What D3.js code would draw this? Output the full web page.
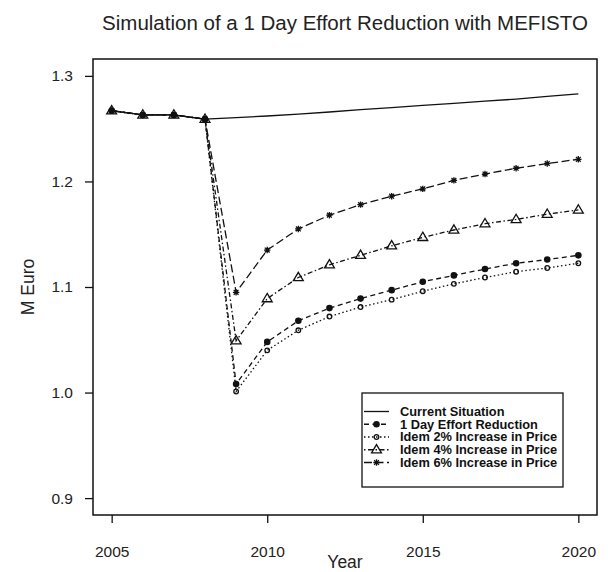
<!DOCTYPE html>
<html><head><meta charset="utf-8">
<script src="https://cdn.jsdelivr.net/npm/d3@7"></script>
<style>
body{margin:0;background:#fff;}
svg{display:block;font-family:"Liberation Sans",Arial,sans-serif;}
</style></head><body>
<svg id="c" width="608" height="572"></svg>
<script>
const years = [2005,2006,2007,2008,2009,2010,2011,2012,2013,2014,2015,2016,2017,2018,2019,2020];
const currentSituation = [1.267,1.263,1.263,1.259,1.2605,1.262,1.2638,1.2658,1.268,1.270,1.272,1.274,1.276,1.278,1.2805,1.283];
const effortReduction = [1.267,1.263,1.263,1.259,1.008,1.048,1.068,1.080,1.089,1.097,1.105,1.111,1.117,1.1225,1.126,1.130];
const price2 = [1.267,1.263,1.263,1.259,1.001,1.040,1.059,1.072,1.081,1.088,1.096,1.103,1.109,1.1145,1.118,1.1225];
const price4 = [1.267,1.263,1.263,1.259,1.049,1.089,1.109,1.121,1.130,1.139,1.147,1.154,1.160,1.164,1.169,1.173];
const price6 = [1.267,1.263,1.263,1.259,1.095,1.135,1.155,1.168,1.178,1.186,1.193,1.201,1.207,1.2125,1.217,1.221];
const seriesNames = ["Current Situation","1 Day Effort Reduction","Idem 2% Increase in Price","Idem 4% Increase in Price","Idem 6% Increase in Price"];
const xTicks = [2005,2010,2015,2020];
const yTicks = [0.9,1.0,1.1,1.2,1.3];
const title = "Simulation of a 1 Day Effort Reduction with MEFISTO";
const xTitle = "Year", yTitle = "M Euro";

const svg = d3.select("#c");
const L=93, R=597, T=59, B=515;
const x = d3.scaleLinear().domain([2004.4,2020.6]).range([L,R]);
const y = d3.scaleLinear().domain([0.884,1.316]).range([B,T]);
const ink = "#111";

const series = [
  {name:seriesNames[0], vals:currentSituation, dash:null, mark:null},
  {name:seriesNames[1], vals:effortReduction, dash:"5,3.5", mark:"filled"},
  {name:seriesNames[2], vals:price2, dash:"1.5,2.5", mark:"open"},
  {name:seriesNames[3], vals:price4, dash:"1.5,2.5,5,2.5", mark:"tri"},
  {name:seriesNames[4], vals:price6, dash:"8,3.5", mark:"star"}
];

function drawMark(g, type, cx, cy){
  if(type==="filled"){
    g.append("circle").attr("cx",cx).attr("cy",cy).attr("r",3.3).attr("fill",ink);
  } else if(type==="open"){
    g.append("circle").attr("cx",cx).attr("cy",cy).attr("r",2.3).attr("fill","none").attr("stroke",ink).attr("stroke-width",1.3);
  } else if(type==="tri"){
    const s=5.2;
    g.append("path").attr("d",`M${cx},${cy-s}L${cx+s*0.95},${cy+s*0.6}L${cx-s*0.95},${cy+s*0.6}Z`)
      .attr("fill","none").attr("stroke",ink).attr("stroke-width",1.3);
  } else if(type==="star"){
    const s=3.2, d=s*0.75;
    g.append("path").attr("d",`M${cx-s},${cy}L${cx+s},${cy}M${cx},${cy-s}L${cx},${cy+s}M${cx-d},${cy-d}L${cx+d},${cy+d}M${cx-d},${cy+d}L${cx+d},${cy-d}`)
      .attr("stroke",ink).attr("stroke-width",1.3).attr("fill","none");
  }
}

// lines
const line = d3.line().x((d,i)=>x(years[i])).y(d=>y(d));
series.forEach(s=>{
  svg.append("path").datum(s.vals).attr("d",line).attr("fill","none")
    .attr("stroke",ink).attr("stroke-width",1.3)
    .attr("stroke-dasharray",s.dash);
});
// markers
const mg = svg.append("g");
series.forEach(s=>{
  if(!s.mark) return;
  s.vals.forEach((v,i)=>drawMark(mg,s.mark,x(years[i]),y(v)));
});

// box
svg.append("rect").attr("x",L).attr("y",T).attr("width",R-L).attr("height",B-T)
  .attr("fill","none").attr("stroke",ink).attr("stroke-width",1.5);

// axes
const ax = svg.append("g").attr("transform",`translate(0,${B})`)
  .call(d3.axisBottom(x).tickValues(xTicks).tickFormat(d3.format("d")).tickSize(8).tickPadding(23));
const ay = svg.append("g").attr("transform",`translate(${L},0)`)
  .call(d3.axisLeft(y).tickValues(yTicks).tickFormat(d3.format(".1f")).tickSize(8).tickPadding(12));
[ax,ay].forEach(a=>{
  a.select(".domain").remove();
  a.selectAll("line").attr("stroke",ink).attr("stroke-width",1.3);
  a.selectAll("text").attr("fill","#222").style("font-size","15.5px").style("font-family","'Liberation Sans',Arial,sans-serif");
});

// titles
svg.append("text").attr("x",(L+R)/2).attr("y",30).attr("text-anchor","middle")
  .style("font-size","20.5px").attr("fill","#222").text(title);
svg.append("text").attr("x",(L+R)/2).attr("y",568).attr("text-anchor","middle")
  .style("font-size","17.5px").attr("fill","#222").text(xTitle);
svg.append("text").attr("transform",`translate(34,${(T+B)/2}) rotate(-90)`).attr("text-anchor","middle")
  .style("font-size","17.5px").attr("fill","#222").text(yTitle);

// legend
const lg = svg.append("g");
lg.append("rect").attr("x",362).attr("y",393).attr("width",201).attr("height",94)
  .attr("fill","#fff").attr("stroke",ink).attr("stroke-width",1.3);
series.forEach((s,i)=>{
  const ly = 411.5 + i*12.75;
  lg.append("line").attr("x1",364).attr("x2",389).attr("y1",ly).attr("y2",ly)
    .attr("stroke",ink).attr("stroke-width",1.3).attr("stroke-dasharray",s.dash);
  if(s.mark) drawMark(lg,s.mark,376.5,ly);
  lg.append("text").attr("x",400).attr("y",ly).attr("dy","0.35em")
    .style("font-size","12.8px").style("font-weight","bold").attr("fill",ink).text(s.name);
});
</script>
</body></html>
